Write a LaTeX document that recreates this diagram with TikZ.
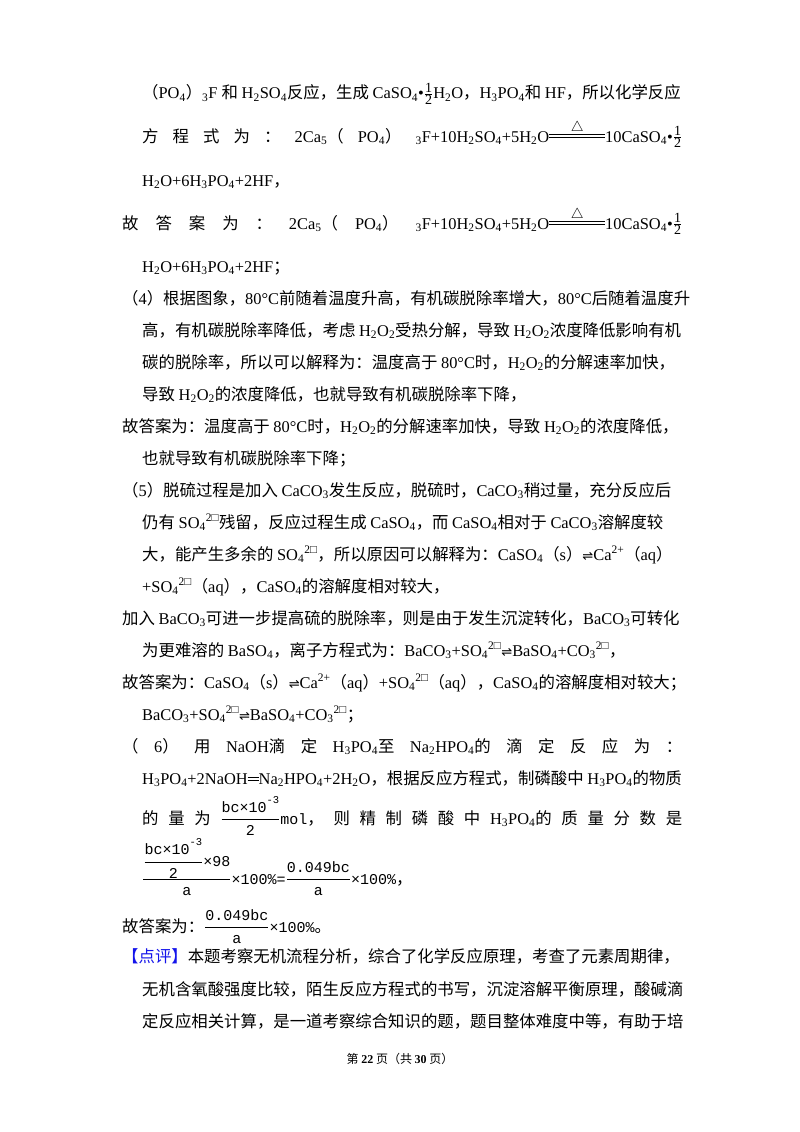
\documentclass[tikz,border=0pt]{standalone}
\usepackage{fontspec}
\usepackage{graphicx}
\setmainfont{Liberation Serif}
\newfontfamily\cjk{Noto Sans CJK SC}
\newfontfamily\latin{Liberation Serif}
\newfontfamily\ff{Liberation Mono}
\newfontfamily\symf{DejaVu Sans}
\XeTeXinterchartokenstate=1
\newXeTeXintercharclass\CJKc
\makeatletter
\@tempcnta="4E00
\loop\ifnum\@tempcnta<"A000 \XeTeXcharclass\@tempcnta=\CJKc \advance\@tempcnta 1 \repeat
\@tempcnta="3000
\loop\ifnum\@tempcnta<"3040 \XeTeXcharclass\@tempcnta=\CJKc \advance\@tempcnta 1 \repeat
\@tempcnta="FF00
\loop\ifnum\@tempcnta<"FFF0 \XeTeXcharclass\@tempcnta=\CJKc \advance\@tempcnta 1 \repeat
\makeatother
\XeTeXinterchartoks 0 \CJKc = {\cjk}
\XeTeXinterchartoks 4095 \CJKc = {\cjk}
\XeTeXinterchartoks \CJKc 0 = {\latin}
\XeTeXinterchartoks 4095 0 = {\latin}
\newcommand\dn[1]{\textsubscript{#1}}
\newcommand\up[1]{\textsuperscript{#1}}
\newcommand\rev{{\XeTeXinterchartokenstate=0 \symf\fontsize{13}{15}\selectfont ⇌}}
\newcommand\tn[1]{\mbox{\fontsize{14}{15}\selectfont #1}}
\newcommand\half{$\frac{\tn{1}}{\tn{2}}$}
\newcommand\heat{\raisebox{0.28em}{\vbox{\hbox to 56pt{\hss\Large$\triangle$\hss}\kern0.5pt\hrule width56pt height0.8pt\kern1.4pt\hrule width56pt height0.8pt}}}
\newcommand\eqq{\raisebox{0.22em}{\vbox{\hrule width11pt height0.7pt\kern1.6pt\hrule width11pt height0.7pt}}}
\newcommand\m[1]{\mbox{\XeTeXinterchartokenstate=0 \ff\fontsize{15}{17}\selectfont #1}}
\newcommand\ex{\raisebox{0.55em}{\XeTeXinterchartokenstate=0 \ff\fontsize{10.5}{12}\selectfont -3}}
\definecolor{pjblue}{RGB}{20,20,235}
\tikzset{ln/.style={anchor=base west, inner sep=0pt, font=\fontsize{16.4}{20}\selectfont}}
\begin{document}
\begin{tikzpicture}[x=1pt,y=-1pt]
\useasboundingbox (0,0) rectangle (800,1132);
\fill[white] (0,0) rectangle (800,1132);
\node[ln] (l1) at (142,99) {（PO\dn{4}）\dn{3}F 和 H\dn{2}SO\dn{4}反应，生成 CaSO\dn{4}•\half H\dn{2}O，H\dn{3}PO\dn{4}和 HF，所以化学反应};
\node[ln] (l2) at (142,142) {\makebox[540pt][s]{方 程 式 为 ： 2Ca\dn{5}（ PO\dn{4}） \dn{3}F+10H\dn{2}SO\dn{4}+5H\dn{2}O\heat 10CaSO\dn{4}•\half}};
\node[ln] (l3) at (142,186) {H\dn{2}O+6H\dn{3}PO\dn{4}+2HF，};
\node[ln] (l4) at (122,229) {\makebox[560pt][s]{故 答 案 为 ： 2Ca\dn{5}（ PO\dn{4}） \dn{3}F+10H\dn{2}SO\dn{4}+5H\dn{2}O\heat 10CaSO\dn{4}•\half}};
\node[ln] (l5) at (142,272) {H\dn{2}O+6H\dn{3}PO\dn{4}+2HF；};
\node[ln] (l6) at (122,304) {（4）根据图象，80°C前随着温度升高，有机碳脱除率增大，80°C后随着温度升};
\node[ln] (l7) at (142,336) {高，有机碳脱除率降低，考虑 H\dn{2}O\dn{2}受热分解，导致 H\dn{2}O\dn{2}浓度降低影响有机};
\node[ln] (l8) at (142,368) {碳的脱除率，所以可以解释为：温度高于 80°C时，H\dn{2}O\dn{2}的分解速率加快，};
\node[ln] (l9) at (142,400) {导致 H\dn{2}O\dn{2}的浓度降低，也就导致有机碳脱除率下降，};
\node[ln] (l10) at (122,432) {故答案为：温度高于 80°C时，H\dn{2}O\dn{2}的分解速率加快，导致 H\dn{2}O\dn{2}的浓度降低，};
\node[ln] (l11) at (142,464) {也就导致有机碳脱除率下降；};
\node[ln] (l12) at (122,496) {（5）脱硫过程是加入 CaCO\dn{3}发生反应，脱硫时，CaCO\dn{3}稍过量，充分反应后};
\node[ln] (l13) at (142,528) {仍有 SO\dn{4}\up{2□}残留，反应过程生成 CaSO\dn{4}，而 CaSO\dn{4}相对于 CaCO\dn{3}溶解度较};
\node[ln] (l14) at (142,560) {大，能产生多余的 SO\dn{4}\up{2□}，所以原因可以解释为：CaSO\dn{4}（s）\rev Ca\up{2+}（aq）};
\node[ln] (l15) at (142,592) {+SO\dn{4}\up{2□}（aq），CaSO\dn{4}的溶解度相对较大，};
\node[ln] (l16) at (122,624) {加入 BaCO\dn{3}可进一步提高硫的脱除率，则是由于发生沉淀转化，BaCO\dn{3}可转化};
\node[ln] (l17) at (142,656) {为更难溶的 BaSO\dn{4}，离子方程式为：BaCO\dn{3}+SO\dn{4}\up{2□}\rev BaSO\dn{4}+CO\dn{3}\up{2□}，};
\node[ln] (l18) at (122,688) {故答案为：CaSO\dn{4}（s）\rev Ca\up{2+}（aq）+SO\dn{4}\up{2□}（aq），CaSO\dn{4}的溶解度相对较大；};
\node[ln] (l19) at (142,720) {BaCO\dn{3}+SO\dn{4}\up{2□}\rev BaSO\dn{4}+CO\dn{3}\up{2□}；};
\node[ln] (l20) at (122,752) {\makebox[560pt][s]{（ 6） 用 NaOH滴 定 H\dn{3}PO\dn{4}至 Na\dn{2}HPO\dn{4}的 滴 定 反 应 为 ：}};
\node[ln] (l21) at (142,784) {H\dn{3}PO\dn{4}+2NaOH\eqq Na\dn{2}HPO\dn{4}+2H\dn{2}O，根据反应方程式，制磷酸中 H\dn{3}PO\dn{4}的物质};
\node[ln] (l22) at (142,824) {\makebox[540pt][s]{的 量 为 $\displaystyle\frac{\m{bc×10}\ex}{\m{2}}$\m{mol}， 则 精 制 磷 酸 中 H\dn{3}PO\dn{4}的 质 量 分 数 是}};
\node[ln] (l23) at (142,884) {$\displaystyle\frac{\displaystyle\frac{\m{bc×10}\ex}{\m{2}}\m{×98}}{\m{a}}\m{×100\%=}\frac{\m{0.049bc}}{\m{a}}\m{×100\%}$，};
\node[ln] (l24) at (122,932) {故答案为：$\displaystyle\frac{\m{0.049bc}}{\m{a}}\m{×100\%}$。};
\node[ln] (l25) at (122,962) {\textcolor{pjblue}{【点评】}本题考察无机流程分析，综合了化学反应原理，考查了元素周期律，};
\node[ln] (l26) at (142,995) {无机含氧酸强度比较，陌生反应方程式的书写，沉淀溶解平衡原理，酸碱滴};
\node[ln] (l27) at (142,1027) {定反应相关计算，是一道考察综合知识的题，题目整体难度中等，有助于培};
\node[anchor=base, inner sep=0pt, font=\fontsize{12}{14}\selectfont] (ft) at (400,1063) {第 \textbf{22} 页（共 \textbf{30} 页）};
\end{tikzpicture}
\end{document}
